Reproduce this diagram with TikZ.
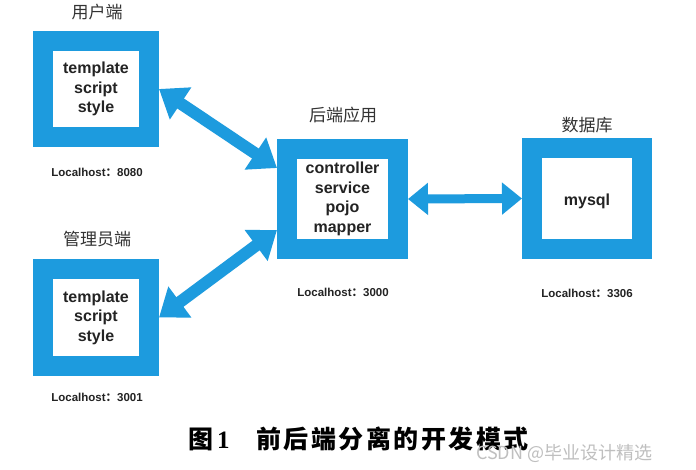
\documentclass[tikz,border=0pt]{standalone}
\usepackage{fontspec}
\setmainfont{Liberation Sans}
\newfontfamily\cjk{Noto Sans CJK SC}
\newfontfamily\cjkcap[LetterSpace=10]{Noto Sans CJK SC}
\newfontfamily\serifb{Liberation Serif}
\usetikzlibrary{arrows.meta}
\definecolor{fblue}{RGB}{29,155,222}
\definecolor{txt}{RGB}{35,35,35}
\begin{document}
\begin{tikzpicture}[x=1pt,y=-1pt,
  frame/.style={draw=fblue, line width=20pt, fill=white, outer sep=10pt,
    font=\bfseries\fontsize{16}{19.5}\selectfont, text=txt, align=center, inner sep=0pt},
  title/.style={font=\cjk\fontsize{17}{20}\selectfont, text=black!80, inner sep=0pt},
  port/.style={font=\bfseries\fontsize{11.5}{13}\selectfont, text=txt, inner sep=0pt},
  biarrow/.style={draw=fblue, line width=12pt,
    {Triangle[length=26pt,width=37pt]}-{Triangle[length=26pt,width=37pt]}},
  hbiarrow/.style={draw=fblue, line width=9pt,
    {Triangle[length=20pt,width=31pt]}-{Triangle[length=20pt,width=31pt]}}]
\useasboundingbox (0,0) rectangle (696,470);
\fill[white] (0,0) rectangle (696,470);

\node[frame, minimum width=106pt, minimum height=96pt] (user) at (96,89) {template\\script\\style};
\node[frame, minimum width=106pt, minimum height=97pt] (admin) at (96,317.5) {template\\script\\style};
\node[frame, minimum width=111pt, minimum height=100pt] (back) at (342.5,199) {controller\\service\\pojo\\mapper};
\node[frame, minimum width=110pt, minimum height=101pt] (db) at (587,198.5) {\raisebox{-7pt}[0pt][0pt]{mysql}};

\node[title] (tuser) at (97,12) {用户端};
\node[title] (tadmin) at (97,239) {管理员端};
\node[title] (tback) at (343,115) {后端应用};
\node[title] (tdb) at (587,125) {数据库};

\node[port] (puser) at (97,172) {Localhost{\cjk：}8080};
\node[port] (padmin) at (97,397) {Localhost{\cjk：}3001};
\node[port] (pback) at (343,292) {Localhost{\cjk：}3000};
\node[port] (pdb) at (587,293) {Localhost{\cjk：}3306};

\draw[biarrow] (user.east) -- ([yshift=31pt]back.west);
\draw[biarrow] (admin.east) -- ([yshift=-31pt]back.west);
\draw[hbiarrow] (back.east) -- (db.west);

\node[anchor=west, inner sep=0pt, text=black] (fig) at (188,439)
  {\cjk\bfseries\fontsize{25}{28}\selectfont 图\hspace{4pt}{\serifb\bfseries 1}};
\node[anchor=west, inner sep=0pt, text=black] (cap) at (256,439)
  {\cjkcap\bfseries\fontsize{25}{28}\selectfont 前后端分离的开发模式};
\node[anchor=west, inner sep=0pt, text=black!25] (wm) at (476,453)
  {\cjk\fontsize{18}{20}\selectfont CSDN @毕业设计精选};
\end{tikzpicture}
\end{document}
